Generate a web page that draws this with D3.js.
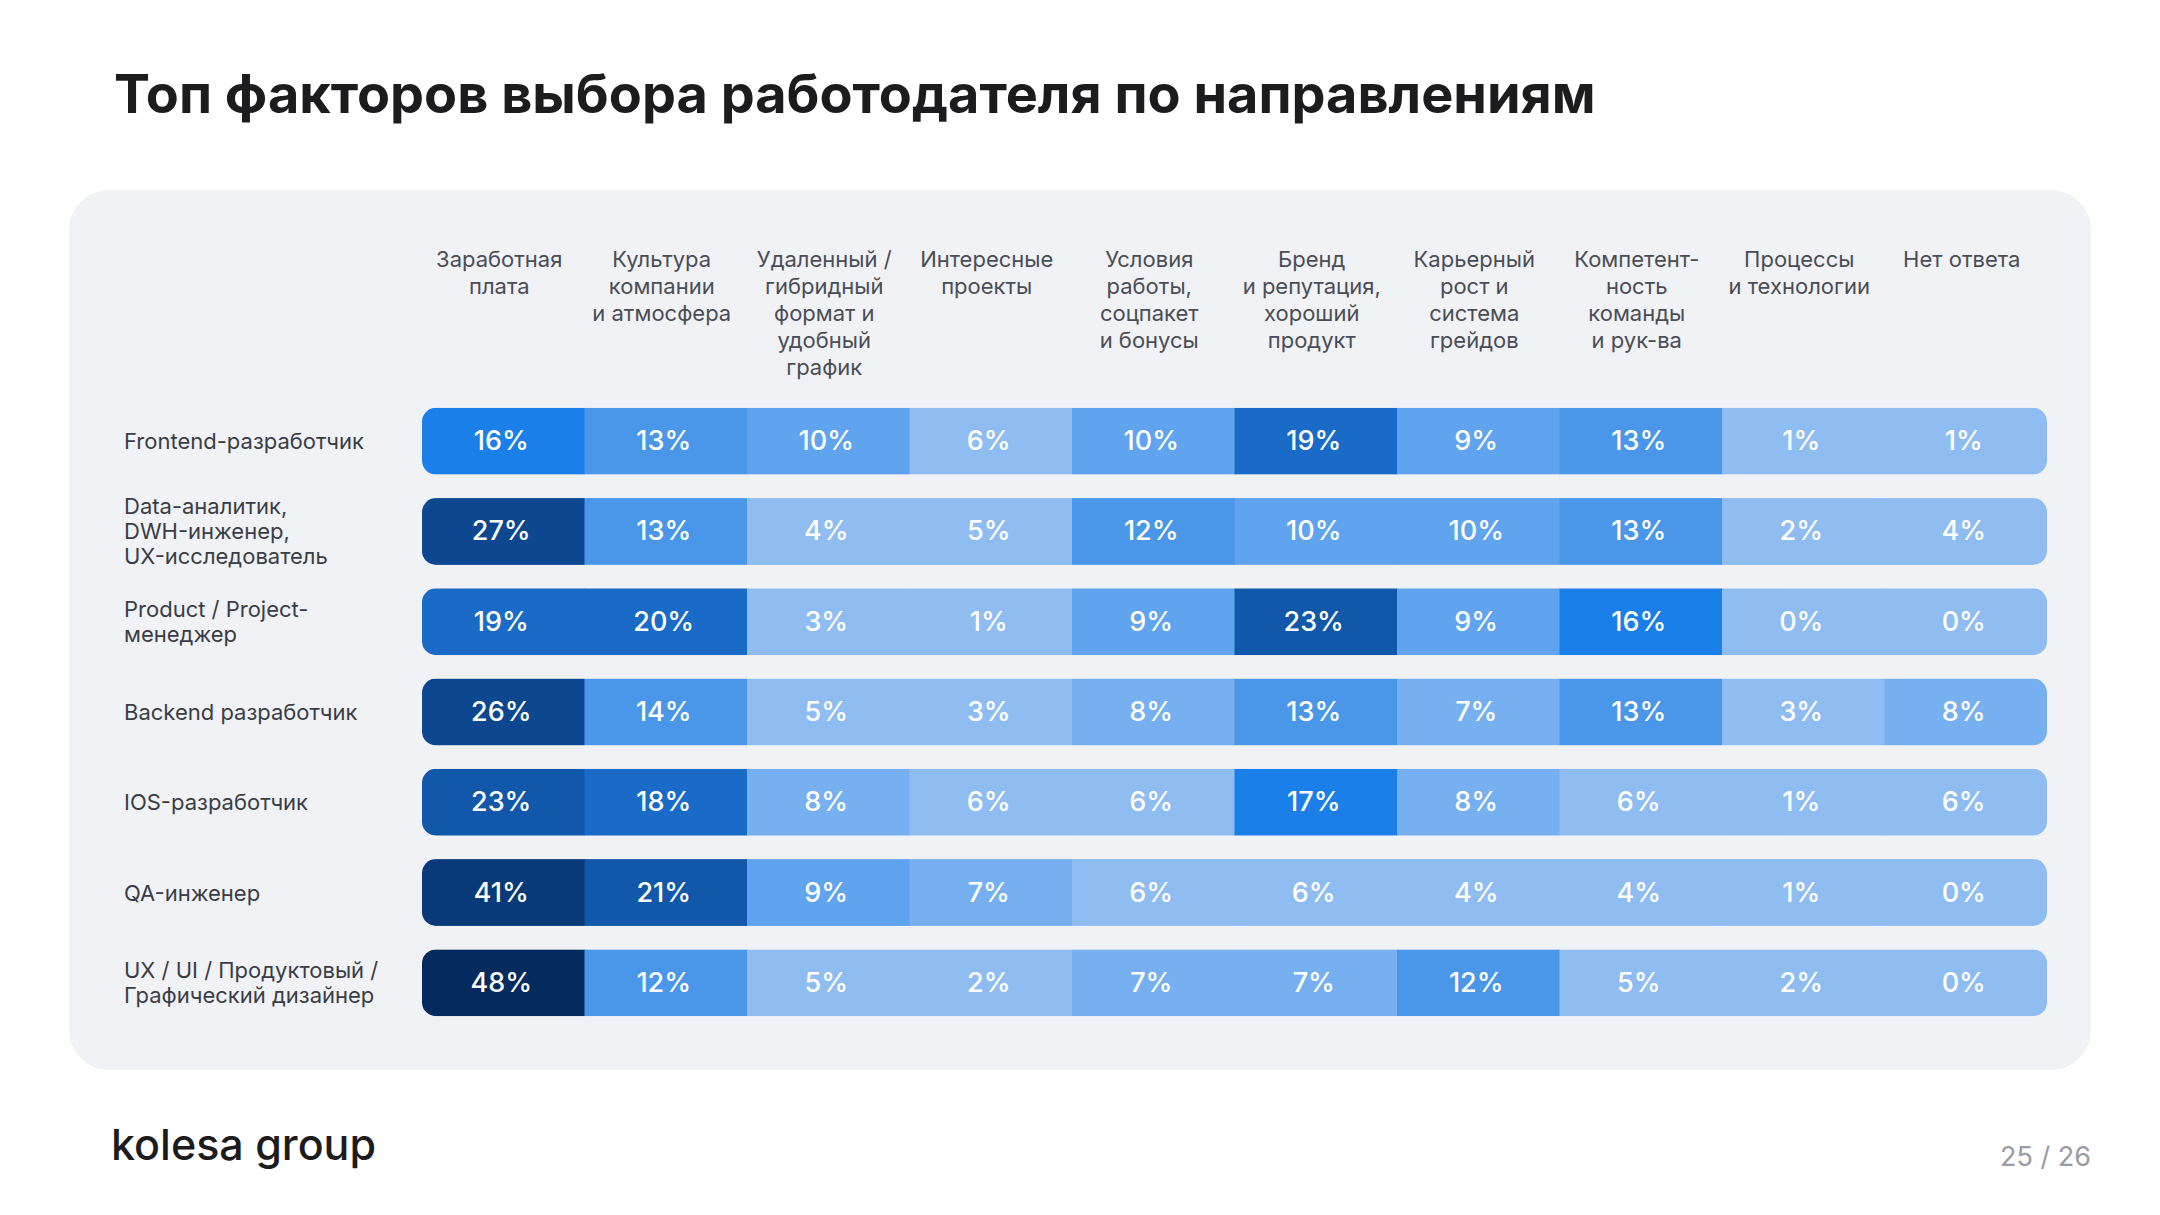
<!DOCTYPE html>
<html><head><meta charset="utf-8">
<script src="https://cdn.jsdelivr.net/npm/d3@7"></script>
<style>body{margin:0;background:#fff;font-family:Inter,"Noto Sans",sans-serif}</style>
</head><body><svg id="c" width="2160" height="1215"></svg>
<script>
const columns = [["Заработная","плата"],["Культура","компании","и атмосфера"],["Удаленный /","гибридный","формат и","удобный","график"],["Интересные","проекты"],["Условия","работы,","соцпакет","и бонусы"],["Бренд","и репутация,","хороший","продукт"],["Карьерный","рост и","система","грейдов"],["Компетент-","ность","команды","и рук-ва"],["Процессы","и технологии"],["Нет ответа"]];
const rows = [["Frontend-разработчик"],["Data-аналитик,","DWH-инженер,","UX-исследователь"],["Product / Project-","менеджер"],["Backend разработчик"],["IOS-разработчик"],["QA-инженер"],["UX / UI / Продуктовый /","Графический дизайнер"]];
const values = [
 [16,13,10,6,10,19,9,13,1,1],
 [27,13,4,5,12,10,10,13,2,4],
 [19,20,3,1,9,23,9,16,0,0],
 [26,14,5,3,8,13,7,13,3,8],
 [23,18,8,6,6,17,8,6,1,6],
 [41,21,9,7,6,6,4,4,1,0],
 [48,12,5,2,7,7,12,5,2,0]];
const thresholds = [7,9,12,15,18,21,25,35,45];
const palette = ["#8fbdf2","#77b0f0","#60a3ee","#4a97ea","#1a7fe8","#1a6bc8","#1157aa","#0c478f","#083a7a","#052b5e"];
const color = d3.scaleThreshold().domain(thresholds).range(palette);

const svg = d3.select("#c");
svg.append("text").attr("x",114).attr("y",113).attr("font-size",54).attr("font-weight",700).attr("fill","#1c1c1e").attr("letter-spacing",0).text("Топ факторов выбора работодателя по направлениям");
svg.append("rect").attr("x",69).attr("y",190).attr("width",2022).attr("height",880).attr("rx",40).attr("fill","#f0f2f5");

const x = d3.scaleBand().domain(d3.range(columns.length)).range([422,2047]).padding(0);
const y = d3.scaleBand().domain(d3.range(rows.length)).range([397,1027]).paddingInner(0.26).paddingOuter(0.12);

columns.forEach((lines,i)=>{
  const t = svg.append("text").attr("text-anchor","middle").attr("font-size",22).attr("fill","#4a4d55");
  lines.forEach((l,j)=>t.append("tspan").attr("x",x(i)+x.bandwidth()/2-4).attr("y",267+j*27).text(l));
});
rows.forEach((lines,r)=>{
  const cy = y(r)+y.bandwidth()/2;
  const t = svg.append("text").attr("font-size",22).attr("fill","#3a3d45");
  const n=lines.length;
  lines.forEach((l,j)=>t.append("tspan").attr("x",124).attr("y",cy+8+(j-(n-1)/2)*25).text(l));
  const cid="clip"+r;
  svg.append("clipPath").attr("id",cid).append("rect").attr("x",422).attr("y",y(r)).attr("width",2047-422).attr("height",y.bandwidth()).attr("rx",14);
  const g = svg.append("g").attr("clip-path",`url(#${cid})`);
  g.selectAll("rect").data(values[r]).join("rect")
    .attr("x",(d,i)=>x(i)).attr("y",y(r)).attr("width",x.bandwidth()+0.5).attr("height",y.bandwidth())
    .attr("fill",d=>color(d));
  svg.append("g").selectAll("text").data(values[r]).join("text")
    .attr("x",(d,i)=>x(i)+x.bandwidth()/2-2).attr("y",cy+9).attr("text-anchor","middle")
    .attr("font-size",27).attr("font-weight",500).attr("fill","#fff").text(d=>d+"%");
});
svg.append("text").attr("x",111).attr("y",1160).attr("font-size",43).attr("font-weight",500).attr("fill","#1c1c1e").text("kolesa group");
svg.append("text").attr("x",2091).attr("y",1166).attr("text-anchor","end").attr("font-size",27).attr("fill","#9a9ca3").text("25 / 26");
</script></body></html>
